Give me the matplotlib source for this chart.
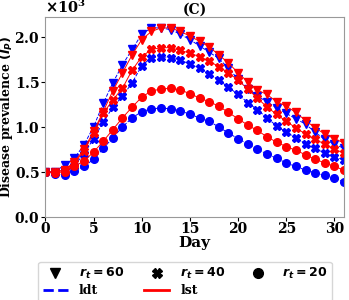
import matplotlib
matplotlib.use("Agg")
import matplotlib.pyplot as plt
from matplotlib.lines import Line2D
from matplotlib.ticker import ScalarFormatter
import numpy as np

days = list(range(32))
ldt_60 = [0.50, 0.50, 0.58, 0.65, 0.80, 1.00, 1.26, 1.49, 1.69, 1.86, 2.03, 2.10, 2.10, 2.08, 2.03, 1.97,
          1.90, 1.83, 1.76, 1.65, 1.53, 1.42, 1.34, 1.28, 1.21, 1.15, 1.09, 1.03, 0.94, 0.86, 0.81, 0.76]
lst_60 = [0.50, 0.50, 0.52, 0.61, 0.75, 0.95, 1.17, 1.40, 1.60, 1.80, 1.97, 2.06, 2.10, 2.10, 2.06, 2.01,
          1.95, 1.89, 1.80, 1.71, 1.60, 1.50, 1.41, 1.36, 1.28, 1.23, 1.16, 1.07, 0.99, 0.92, 0.87, 0.82]
lst_40 = [0.50, 0.50, 0.52, 0.60, 0.73, 0.93, 1.15, 1.30, 1.43, 1.63, 1.78, 1.86, 1.88, 1.88, 1.85, 1.82,
          1.78, 1.73, 1.67, 1.60, 1.52, 1.42, 1.32, 1.22, 1.14, 1.06, 0.99, 0.92, 0.86, 0.81, 0.75, 0.71]
ldt_40 = [0.50, 0.50, 0.51, 0.57, 0.70, 0.87, 1.05, 1.22, 1.34, 1.49, 1.68, 1.77, 1.78, 1.77, 1.74, 1.70,
          1.65, 1.59, 1.52, 1.44, 1.36, 1.27, 1.19, 1.10, 1.01, 0.94, 0.88, 0.81, 0.76, 0.71, 0.67, 0.63]
lst_20 = [0.50, 0.49, 0.50, 0.56, 0.62, 0.72, 0.84, 0.97, 1.10, 1.22, 1.33, 1.40, 1.42, 1.43, 1.41, 1.37,
          1.32, 1.28, 1.23, 1.16, 1.09, 1.02, 0.96, 0.89, 0.83, 0.78, 0.74, 0.69, 0.64, 0.60, 0.56, 0.52]
ldt_20 = [0.50, 0.48, 0.47, 0.51, 0.56, 0.64, 0.76, 0.88, 1.00, 1.10, 1.17, 1.20, 1.21, 1.20, 1.18, 1.14,
          1.10, 1.06, 1.00, 0.93, 0.87, 0.81, 0.75, 0.70, 0.65, 0.60, 0.56, 0.52, 0.49, 0.46, 0.43, 0.39]

plt.rcParams['font.family'] = 'DejaVu Serif'
plt.rcParams['font.weight'] = 'bold'
plt.rcParams['mathtext.fontset'] = 'dejavusans'

fig = plt.figure(figsize=(3.49, 3.0), dpi=100)
ax = fig.add_axes([0.13, 0.277, 0.856, 0.666])

d = np.array(days)
ms = 5.5
series = [
    (ldt_60, 'blue', '--', 'v'), (lst_60, 'red', '-', 'v'),
    (ldt_40, 'blue', '--', 'X'), (lst_40, 'red', '-', 'X'),
    (ldt_20, 'blue', '--', 'o'), (lst_20, 'red', '-', 'o'),
]
for vals, c, ls, m in series:
    ax.plot(d, np.array(vals) * 1000, color=c, linestyle=ls, linewidth=0.7,
            marker=m, markersize=ms, clip_on=True)

ax.set_xlim(0, 31)
ax.set_ylim(0, 2220)
ax.set_xticks([0, 5, 10, 15, 20, 25, 30])
ax.set_yticks([0, 500, 1000, 1500, 2000])
fmt = ScalarFormatter(useMathText=True)
fmt.set_powerlimits((3, 3))
ax.yaxis.set_major_formatter(fmt)
ax.yaxis.get_offset_text().set_fontsize(10.5)
ax.yaxis.get_offset_text().set_fontweight('bold')
for lab in ax.get_xticklabels() + ax.get_yticklabels():
    lab.set_fontsize(10)
    lab.set_fontweight('bold')
ax.tick_params(length=3, pad=1)
for s in ax.spines.values():
    s.set_color('#999999')

ax.set_xlabel('Day', fontsize=11, fontweight='bold', labelpad=0)
ax.set_ylabel(r'Disease prevalence $\boldsymbol{(I_P)}$', fontsize=9, fontweight='bold', labelpad=0)
ax.yaxis.set_label_coords(-0.1, 0.5)
ax.set_title('(C)', fontsize=10, fontweight='bold', pad=2)

handles = [
    Line2D([], [], color='black', marker='v', linestyle='None', markersize=7),
    Line2D([], [], color='blue', linestyle='--', linewidth=2),
    Line2D([], [], color='black', marker='X', linestyle='None', markersize=7),
    Line2D([], [], color='red', linestyle='-', linewidth=2),
    Line2D([], [], color='black', marker='o', linestyle='None', markersize=7),
]
labels = [r'$\boldsymbol{r_t = 60}$', 'ldt', r'$\boldsymbol{r_t = 40}$', 'lst', r'$\boldsymbol{r_t = 20}$']
leg = fig.legend(handles, labels, loc='upper center', bbox_to_anchor=(0.53, 0.148),
                 ncol=3, fontsize=9, frameon=True, handlelength=2.0, columnspacing=1.6,
                 handletextpad=0.9, borderpad=0.35, labelspacing=0.25)
leg.get_frame().set_edgecolor('#cccccc')

fig.savefig('out.png', dpi=100)
